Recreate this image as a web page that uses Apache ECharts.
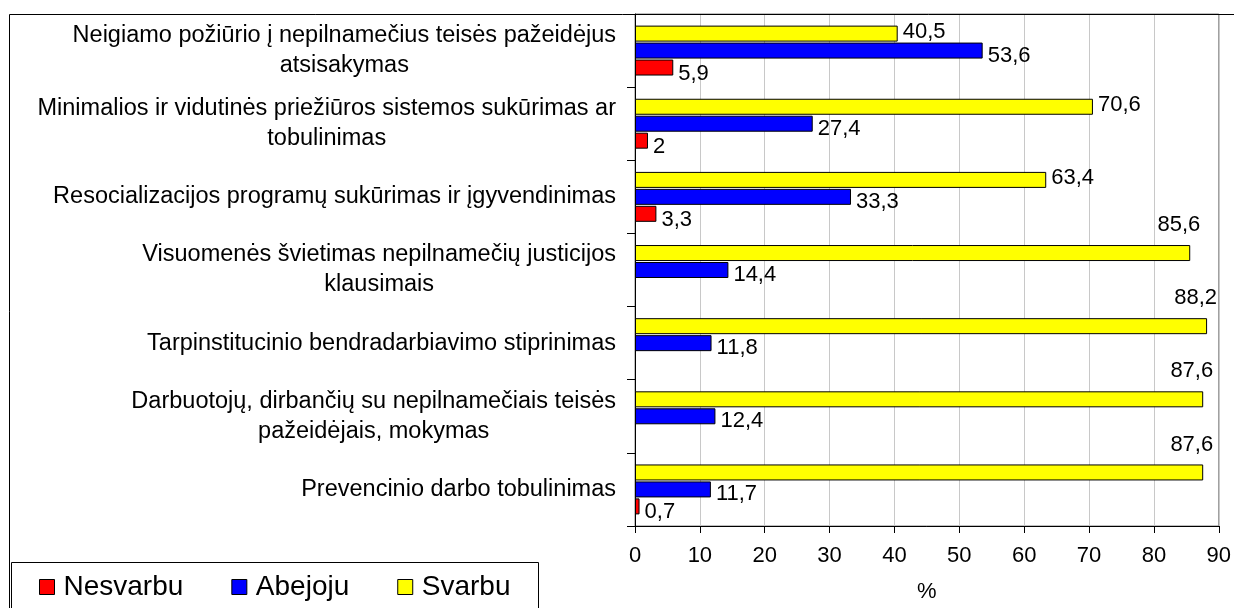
<!DOCTYPE html>
<html>
<head>
<meta charset="utf-8">
<script src="https://cdn.jsdelivr.net/npm/echarts@6.0.0/dist/echarts.min.js"></script>
<style>
  html, body { margin: 0; padding: 0; background: #fff; }
  #chart { width: 1234px; height: 608px; }
</style>
</head>
<body>
<div id="chart"></div>
<script>
// kategorijos nuo viršaus į apačią
var categories = [
  'Neigiamo požiūrio į nepilnamečius teisės pažeidėjus\natsisakymas',
  'Minimalios ir vidutinės priežiūros sistemos sukūrimas ar\ntobulinimas',
  'Resocializacijos programų sukūrimas ir įgyvendinimas',
  'Visuomenės švietimas nepilnamečių justicijos\nklausimais',
  'Tarpinstitucinio bendradarbiavimo stiprinimas',
  'Darbuotojų, dirbančių su nepilnamečiais teisės\npažeidėjais, mokymas',
  'Prevencinio darbo tobulinimas'
]
var nesvarbu = [5.9, 2, 3.3, null, null, null, 0.7]
var abejoju = [53.6, 27.4, 33.3, 14.4, 11.8, 12.4, 11.7]
var svarbu = [40.5, 70.6, 63.4, 85.6, 88.2, 87.6, 87.6]
var seriesNames = ['Nesvarbu', 'Abejoju', 'Svarbu']
var axisName = '%'

var font = 'Liberation Sans'

// category axis runs bottom -> top, so reverse
function rev(arr) {
  return arr.slice().reverse()
}

function fmt(p) {
  return String(p.value).replace('.', ',')
}

function labelStyle(dy) {
  return {
    show: true,
    position: 'right',
    distance: 5,
    offset: [0, dy],
    fontFamily: font,
    fontSize: 22,
    color: '#000',
    formatter: fmt
  }
}

var chart = echarts.init(document.getElementById('chart'))

var option = {
  animation: false,
  backgroundColor: '#fff',
  textStyle: { fontFamily: font },
  grid: {
    left: 635,
    top: 14,
    width: 586,
    height: 521,
    show: true,
    borderColor: '#808080',
    borderWidth: 1
  },
  legend: {
    left: 34,
    top: 568,
    itemWidth: 15,
    itemHeight: 15,
    itemGap: 48,
    icon: 'rect',
    data: seriesNames,
    textStyle: { fontFamily: font, fontSize: 28, color: '#000', padding: [0, 0, 0, 4] },
    itemStyle: { borderColor: '#000', borderWidth: 1 }
  },
  xAxis: {
    type: 'value',
    min: 0,
    max: 90,
    interval: 10,
    name: axisName,
    nameLocation: 'middle',
    nameGap: 55,
    nameTextStyle: { fontFamily: font, fontSize: 22, color: '#000' },
    axisLine: { show: true, lineStyle: { color: '#000', width: 1 } },
    axisTick: { show: true, length: 7, lineStyle: { color: '#000' } },
    axisLabel: { margin: 19, fontFamily: font, fontSize: 22, color: '#000' },
    splitLine: { show: true, lineStyle: { color: '#c8c8c8', width: 1 } }
  },
  yAxis: {
    type: 'category',
    data: rev(categories),
    axisLine: { show: true, lineStyle: { color: '#000', width: 1 } },
    axisTick: { show: true, length: 8, lineStyle: { color: '#000' } },
    axisLabel: {
      margin: 19,
      align: 'right',
      fontFamily: font,
      fontSize: 23.5,
      lineHeight: 30,
      color: '#000',
      formatter: function (v) {
        return v.split('\n').map(function (s) { return '{c|' + s + '}' }).join('\n')
      },
      rich: {
        c: { align: 'center', fontFamily: font, fontSize: 23.5, lineHeight: 30, color: '#000' }
      }
    },
    splitLine: { show: false }
  },
  // pirmoji serija piešiama viršuje, todėl geltona eina pirma
  series: [
    {
      name: seriesNames[2],
      type: 'bar',
      barWidth: 16,
      barGap: '6%',
      data: rev(svarbu).map(function (v) {
        // ilgų stulpelių reikšmės virš stulpelio
        if (v > 80) {
          return {
            value: v,
            label: { position: ['100%', 0], align: 'right', verticalAlign: 'bottom', offset: [10, -9] }
          }
        }
        return v
      }),
      itemStyle: { color: '#ffff00', borderColor: '#000', borderWidth: 1 },
      label: labelStyle(-2)
    },
    {
      name: seriesNames[1],
      type: 'bar',
      barWidth: 16,
      barGap: '6%',
      data: rev(abejoju),
      itemStyle: { color: '#0000ff', borderColor: '#000', borderWidth: 1 },
      label: labelStyle(5)
    },
    {
      name: seriesNames[0],
      type: 'bar',
      barWidth: 16,
      barGap: '6%',
      data: rev(nesvarbu).map(function (v) { return v == null ? '-' : v }),
      itemStyle: { color: '#ff0000', borderColor: '#000', borderWidth: 1 },
      label: labelStyle(6)
    }
  ],
  graphic: [
    {
      type: 'rect',
      silent: true,
      z: 100,
      shape: { x: 9.5, y: 14.5, width: 1300, height: 700 },
      style: { fill: 'none', stroke: '#000', lineWidth: 1 }
    },
    {
      type: 'rect',
      silent: true,
      z: 100,
      shape: { x: 11.5, y: 562.5, width: 527, height: 80 },
      style: { fill: 'none', stroke: '#000', lineWidth: 1 }
    }
  ]
}

chart.setOption(option)
</script>
</body>
</html>
